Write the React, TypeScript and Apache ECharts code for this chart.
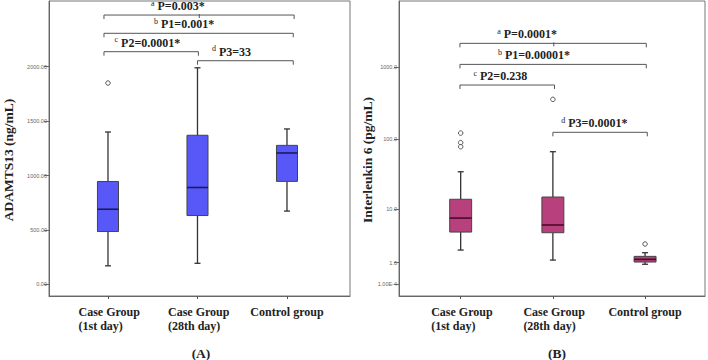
import React, { useEffect, useRef } from "react";
import * as echarts from "echarts";

// ---------- data ----------
const categories = ["Case Group\n(1st day)", "Case Group\n(28th day)", "Control group"];

// ADAMTS13 (ng/mL): [min, Q1, median, Q3, max]
const adamtsBoxes = [
  [170, 485, 690, 945, 1400],
  [193, 632, 890, 1370, 1990],
  [673, 946, 1207, 1277, 1428],
];
const adamtsOutliers = [[0, 1850]];
const adamtsTicks = [0, 500, 1000, 1500, 2000];

// Interleukin 6 (pg/mL): [min, Q1, median, Q3, max]
const il6Boxes = [
  [1.97, 4.26, 7.2, 13.9, 34.7],
  [1.16, 4.15, 5.58, 15.0, 66.5],
  [0.89, 1.03, 1.21, 1.43, 1.73],
];
const il6Outliers = [[0, 121], [0, 89], [0, 78], [1, 355], [2, 2.6]];
const il6Ticks = [0.0001, 1, 10, 100, 1000];
const il6TickLabels = ["1.00E-4", "1.0", "10.0", "100.0", "1000.0"];

// significance annotations
const adamtsLetters = ["a", "b", "c", "d"];
const adamtsPTexts = ["P=0.003*", "P1=0.001*", "P2=0.0001*", "P3=33"];
// [fromX, toX, level (ng/mL), labelX, midTickX (-1 none)]
const adamtsBrackets = [
  [-0.045, 2.08, 2475, 0.78, 1.02],
  [-0.045, 2.07, 2307, 0.85, -1],
  [-0.045, 1.01, 2138, 0.44, -1],
  [1.0, 2.07, 2055, 1.38, -1],
];

const il6Letters = ["a", "b", "c", "d"];
const il6PTexts = ["P=0.0001*", "P1=0.00001*", "P2=0.238", "P3=0.0001*"];
// level in pg/mL
const il6Brackets = [
  [-0.008, 2.013, 2107, 0.72, 1.01],
  [-0.008, 2.013, 1080, 0.795, -1],
  [-0.008, 1.018, 560, 0.43, -1],
  [1.0, 2.024, 124, 1.45, -1],
];

// ---------- helpers ----------
const tf = (v: number) => Math.log10(v + 1);
const SERIF = "Liberation Serif";
const SANS = "Liberation Sans";

function boxRender(fill: string, medianColor: string, widthUnits: number) {
  return (params: any, api: any) => {
    const x = api.value(0);
    const ys = [1, 2, 3, 4, 5].map((k) => api.coord([x, api.value(k)])[1]);
    const cx = api.coord([x, api.value(1)])[0];
    const hw = api.size([widthUnits, 0])[0] / 2;
    const cap = 3;
    const [yMin, yQ1, yMed, yQ3, yMax] = ys;
    const ws = { stroke: "#333", lineWidth: 1.3 };
    return {
      type: "group",
      children: [
        { type: "line", shape: { x1: cx, y1: yMax, x2: cx, y2: yQ3 }, style: ws },
        { type: "line", shape: { x1: cx, y1: yQ1, x2: cx, y2: yMin }, style: ws },
        { type: "line", shape: { x1: cx - cap, y1: yMax, x2: cx + cap, y2: yMax }, style: ws },
        { type: "line", shape: { x1: cx - cap, y1: yMin, x2: cx + cap, y2: yMin }, style: ws },
        {
          type: "rect",
          shape: { x: cx - hw, y: yQ3, width: hw * 2, height: yQ1 - yQ3 },
          style: { fill, stroke: "#444", lineWidth: 1 },
        },
        {
          type: "line",
          shape: { x1: cx - hw, y1: yMed, x2: cx + hw, y2: yMed },
          style: { stroke: medianColor, lineWidth: 1.6 },
        },
      ],
    };
  };
}

function bracketRender(letters: string[], texts: string[]) {
  return (params: any, api: any) => {
    const x1 = api.value(0);
    const x2 = api.value(1);
    const lvl = api.value(2);
    const lx = api.value(3);
    const mid = api.value(4);
    const p1 = api.coord([x1, lvl]);
    const p2 = api.coord([x2, lvl]);
    const pl = api.coord([lx, lvl]);
    const t = 4;
    const st = { stroke: "#555", lineWidth: 1, fill: "none" };
    const children: any[] = [
      {
        type: "polyline",
        shape: { points: [[p1[0], p1[1] + t], [p1[0], p1[1]], [p2[0], p2[1]], [p2[0], p2[1] + t]] },
        style: st,
      },
    ];
    if (mid >= 0) {
      const pm = api.coord([mid, lvl]);
      children.push({ type: "line", shape: { x1: pm[0], y1: pm[1] - 1, x2: pm[0], y2: pm[1] + 3 }, style: st });
    }
    const i = params.dataIndex;
    children.push({
      type: "text",
      style: {
        x: pl[0],
        y: pl[1] - 9,
        text: `{s|${letters[i]}}{t| ${texts[i]}}`,
        align: "center",
        verticalAlign: "middle",
        fill: "#222",
        rich: {
          s: { fontSize: 8, fontFamily: SERIF, fill: "#222", verticalAlign: "top", padding: [0, 0, 6, 0] },
          t: { fontSize: 12, fontFamily: SERIF, fontWeight: "bold", fill: "#222" },
        },
      },
    });
    return { type: "group", children };
  };
}

function catLabel(v: number) {
  const name = categories[Math.round(v)] || "";
  const lines = name.split("\n");
  if (lines.length === 1) return `{c|${name}}`;
  return lines.map((l) => `{w|${l}}`).join("\n");
}

const catRich = {
  w: { width: 59, align: "left", fontSize: 12, fontFamily: SERIF, fontWeight: "bold", color: "#222", lineHeight: 13.7 },
  c: { fontSize: 12, fontFamily: SERIF, fontWeight: "bold", color: "#222", lineHeight: 13.7 },
};

export default function App() {
  const ref = useRef<HTMLDivElement>(null);
  useEffect(() => {
    if (!ref.current) return;
    const chart = echarts.init(ref.current, undefined, { renderer: "svg" });

    const xAxisCommon = (idx: number, min: number, max: number) => ({
      type: "value",
      gridIndex: idx,
      min,
      max,
      splitLine: { show: false },
      axisLine: { show: true, onZero: false, lineStyle: { color: "#666", width: 1 } },
      axisTick: { show: true, customValues: [0, 1, 2], length: 3, lineStyle: { color: "#555" } },
      axisLabel: {
        customValues: [0, 1, 2],
        formatter: catLabel,
        rich: catRich,
        margin: 9,
      },
    });

    const yAxisCommon = (idx: number, min: number, max: number, ticks: number[], fmt: (v: number) => string) => ({
      type: "value",
      gridIndex: idx,
      min,
      max,
      splitLine: { show: false },
      axisLine: { show: true, onZero: false, lineStyle: { color: "#666" } },
      axisTick: { show: true, customValues: ticks, length: 5, lineStyle: { color: "#666" } },
      axisLabel: {
        customValues: ticks,
        formatter: fmt,
        fontSize: 5.5,
        fontFamily: SANS,
        color: "#666",
        margin: 2,
      },
    });

    const il6Fmt = (v: number) => {
      let best = 0;
      il6Ticks.forEach((t, i) => {
        if (Math.abs(tf(t) - v) < Math.abs(tf(il6Ticks[best]) - v)) best = i;
      });
      return il6TickLabels[best];
    };

    const option: any = {
      animation: false,
      backgroundColor: "#fff",
      grid: [
        { left: 49, top: 1, width: 301, height: 295, show: true, borderColor: "#777", borderWidth: 1, backgroundColor: "transparent" },
        { left: 399, top: 1, width: 306, height: 295, show: true, borderColor: "#777", borderWidth: 1, backgroundColor: "transparent" },
      ],
      xAxis: [xAxisCommon(0, -0.659, 2.704), xAxisCommon(1, -0.669, 2.65)],
      yAxis: [
        yAxisCommon(0, -107.5, 2604, adamtsTicks, (v: number) => v.toFixed(2)),
        yAxisCommon(1, -0.161, 3.908, il6Ticks.map(tf), il6Fmt),
      ],
      series: [
        {
          type: "custom",
          xAxisIndex: 0,
          yAxisIndex: 0,
          renderItem: boxRender("#5858f8", "#1c1c5c", 0.235),
          encode: { x: 0, y: [1, 2, 3, 4, 5] },
          data: adamtsBoxes.map((b, i) => [i, ...b]),
          z: 2,
        },
        {
          type: "scatter",
          xAxisIndex: 0,
          yAxisIndex: 0,
          symbol: "circle",
          symbolSize: 4.5,
          itemStyle: { color: "#fff", borderColor: "#333", borderWidth: 1 },
          data: adamtsOutliers,
          z: 3,
        },
        {
          type: "custom",
          xAxisIndex: 0,
          yAxisIndex: 0,
          renderItem: bracketRender(adamtsLetters, adamtsPTexts),
          data: adamtsBrackets,
          clip: false,
          z: 4,
        },
        {
          type: "custom",
          xAxisIndex: 1,
          yAxisIndex: 1,
          renderItem: boxRender("#b8407c", "#4a0b2a", 0.238),
          encode: { x: 0, y: [1, 2, 3, 4, 5] },
          data: il6Boxes.map((b, i) => [i, ...b.map(tf)]),
          z: 2,
        },
        {
          type: "scatter",
          xAxisIndex: 1,
          yAxisIndex: 1,
          symbol: "circle",
          symbolSize: 4.5,
          itemStyle: { color: "#fff", borderColor: "#333", borderWidth: 1 },
          data: il6Outliers.map(([i, v]) => [i, tf(v)]),
          z: 3,
        },
        {
          type: "custom",
          xAxisIndex: 1,
          yAxisIndex: 1,
          renderItem: bracketRender(il6Letters, il6PTexts),
          data: il6Brackets.map(([a, b, l, lx, m]) => [a, b, tf(l), lx, m]),
          clip: false,
          z: 4,
        },
      ],
      graphic: [
        {
          type: "text",
          x: 8,
          y: 160,
          rotation: Math.PI / 2,
          style: { text: "ADAMTS13 (ng/mL)", fontSize: 13.5, fontWeight: "bold", fontFamily: SERIF, fill: "#222", align: "center", verticalAlign: "middle" },
        },
        {
          type: "text",
          x: 367,
          y: 160,
          rotation: Math.PI / 2,
          style: { text: "Interleukin 6 (pg/mL)", fontSize: 13.5, fontWeight: "bold", fontFamily: SERIF, fill: "#222", align: "center", verticalAlign: "middle" },
        },
        {
          type: "text",
          x: 201,
          y: 353,
          style: { text: "(A)", fontSize: 13.5, fontWeight: "bold", fontFamily: SERIF, fill: "#222", align: "center", verticalAlign: "middle" },
        },
        {
          type: "text",
          x: 557,
          y: 353,
          style: { text: "(B)", fontSize: 13.5, fontWeight: "bold", fontFamily: SERIF, fill: "#222", align: "center", verticalAlign: "middle" },
        },
      ],
    };
    chart.setOption(option);
    return () => chart.dispose();
  }, []);
  return (
    <div
      ref={ref}
      style={{ position: "absolute", left: 0, top: 0, width: 708, height: 360, background: "#fff" }}
    />
  );
}
